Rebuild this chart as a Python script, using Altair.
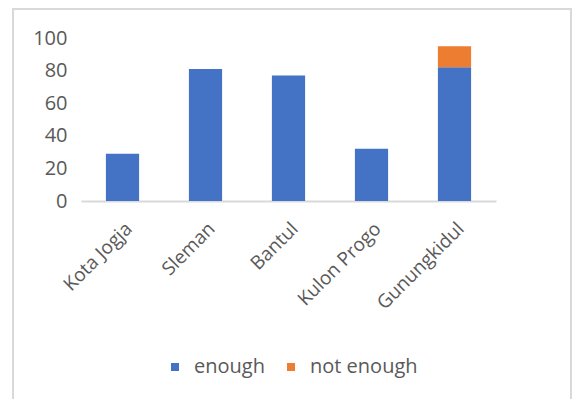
import altair as alt
import pandas as pd

# Regencies / city in DI Yogyakarta
regions = ["Kota Jogja", "Sleman", "Bantul", "Kulon Progo", "Gunungkidul"]
enough = [29, 81, 77, 32, 82]
not_enough = [0, 0, 0, 0, 13]
series = ["enough", "not enough"]
colors = ["#4472C4", "#ED7D31"]

rows = []
for r, a, b in zip(regions, enough, not_enough):
    rows.append({"region": r, "status": series[0], "value": a, "order": 0})
    rows.append({"region": r, "status": series[1], "value": b, "order": 1})
df = pd.DataFrame(rows)

FONT = "Open Sans"
GRAY = "#595959"

bars = alt.Chart(df).mark_bar().encode(
    x=alt.X(
        "region:N",
        sort=regions,
        title=None,
        scale=alt.Scale(paddingInner=0.6, paddingOuter=0.3),
        axis=alt.Axis(
            labelAngle=-45,
            labelFontSize=19,
            labelColor=GRAY,
            labelFont=FONT,
            ticks=False,
            labelPadding=18,
            domainColor="#D9D9D9",
            domainWidth=2,
        ),
    ),
    y=alt.Y(
        "value:Q",
        stack="zero",
        title=None,
        scale=alt.Scale(domain=[0, 100]),
        axis=alt.Axis(
            values=[0, 20, 40, 60, 80, 100],
            grid=False,
            domain=False,
            ticks=False,
            labelFontSize=20,
            labelColor=GRAY,
            labelFont=FONT,
            labelPadding=14,
        ),
    ),
    color=alt.Color(
        "status:N",
        scale=alt.Scale(domain=series, range=colors),
        legend=alt.Legend(
            title=None,
            orient="none",
            direction="horizontal",
            legendX=84,
            legendY=319,
            symbolType="square",
            symbolSize=64,
            symbolStrokeWidth=0,
            labelFontSize=20,
            labelFont=FONT,
            labelColor=GRAY,
            labelOffset=9,
            columnPadding=16,
            padding=0,
        ),
    ),
    order=alt.Order("order:Q"),
)

# light frame around the whole figure
frame = alt.Chart(df).mark_rect(
    fill=None, stroke="#D9D9D9", strokeWidth=2, clip=False
).encode(
    x=alt.value(-68), x2=alt.value(490), y=alt.value(-29), y2=alt.value(420)
)

chart = (
    alt.layer(bars, frame)
    .properties(
        width=415,
        height=163,
        autosize=alt.AutoSizeParams(type="none"),
        padding={"left": 81, "top": 38, "right": 77, "bottom": 198},
        background="white",
    )
    .configure_view(stroke=None)
)

chart.save("out.html", embed_options={"renderer": "svg", "actions": False})
